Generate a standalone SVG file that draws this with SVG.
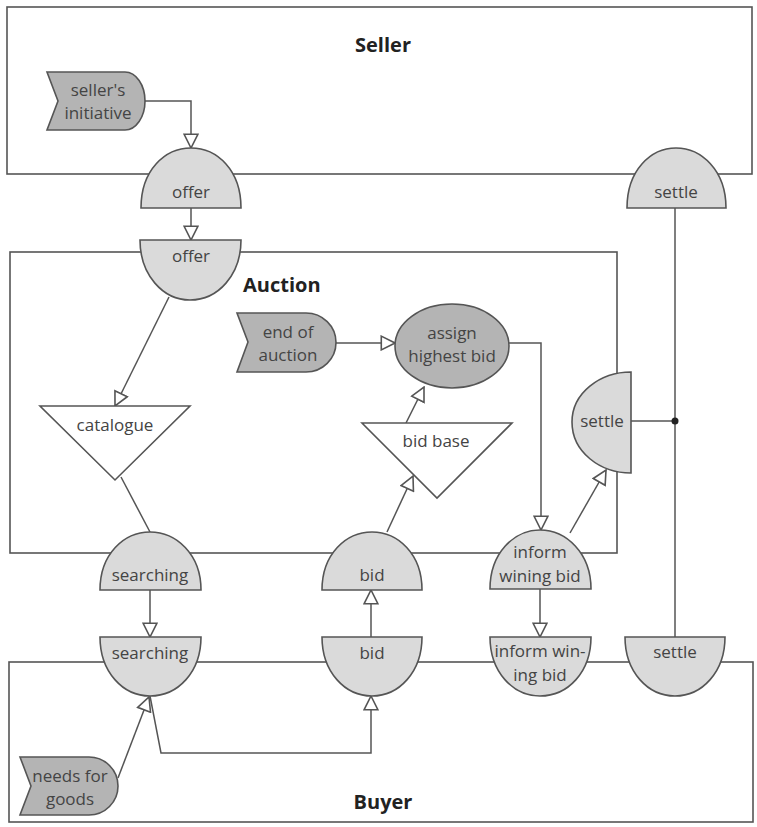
<svg xmlns="http://www.w3.org/2000/svg" width="757" height="827" viewBox="0 0 757 827">
<style>
.box{fill:none;stroke:#555;stroke-width:1.6}
.light{fill:#dadada;stroke:#555;stroke-width:1.6}
.dark{fill:#b4b4b4;stroke:#555;stroke-width:1.6}
.tri{fill:#fff;stroke:#555;stroke-width:1.6}
.c{fill:none;stroke:#555;stroke-width:1.5}
.a{marker-end:url(#ah)}
text{font-family:"Open Sans","Liberation Sans",sans-serif;font-size:17px;fill:#444;text-anchor:middle}
.title{font-size:20px;font-weight:bold;fill:#222}
</style>
<defs>
<marker id="ah" markerUnits="userSpaceOnUse" markerWidth="16" markerHeight="16" viewBox="0 0 14 14" refX="13" refY="7" orient="auto">
<path d="M1,1 L13,7 L1,13 Z" fill="#fff" stroke="#555" stroke-width="1.4"/>
</marker>
</defs>
<rect width="757" height="827" fill="#fff"/>
<g id="lanes">
<rect id="seller-lane" class="box" x="7" y="7" width="745" height="167"/>
<rect id="auction-lane" class="box" x="10" y="252" width="607" height="301"/>
<rect id="buyer-lane" class="box" x="9" y="662" width="744" height="160"/>
<text class="title" x="383" y="52">Seller</text>
<text class="title" x="243" y="292" style="text-anchor:start">Auction</text>
<text class="title" x="383" y="809">Buyer</text>
</g>
<g id="connectors">
<polyline class="c a" points="145,101 191,101 191,148"/>
<line class="c a" x1="191" y1="208" x2="191" y2="240"/>
<line class="c a" x1="169" y1="297" x2="115" y2="406"/>
<line class="c" x1="121" y1="477" x2="150" y2="532"/>
<line class="c a" x1="150" y1="590" x2="150" y2="637"/>
<line class="c a" x1="336" y1="343" x2="395" y2="343"/>
<line class="c a" x1="406" y1="423" x2="424" y2="387"/>
<line class="c a" x1="387" y1="532" x2="413" y2="476"/>
<polyline class="c a" points="508,343 541,343 541,530"/>
<line class="c a" x1="570" y1="533" x2="606" y2="470"/>
<line class="c a" x1="540" y1="589" x2="540" y2="637"/>
<line class="c a" x1="371" y1="637" x2="371" y2="590"/>
<polyline class="c a" points="150,696 161,753 371,753 371,696"/>
<line class="c a" x1="118" y1="778" x2="149" y2="697"/>
<line class="c" x1="631" y1="421" x2="675" y2="421"/>
<line class="c" x1="675" y1="208" x2="675" y2="637"/>
<circle cx="675" cy="421" r="3.5" fill="#222"/>
</g>
<g id="sellers-initiative">
<path class="dark" d="M47,72 L125,72 A20,29 0 0 1 125,130 L47,130 L58,101 Z"/>
<text x="98" y="96">seller's</text>
<text x="98" y="119">initiative</text>
</g>
<g id="offer-seller">
<path class="light" d="M141,208 C141,170 165,148 191,148 C217,148 241,170 241,208 Z"/>
<text x="191" y="198">offer</text>
</g>
<g id="settle-seller">
<path class="light" d="M627,208 C627,170 651,148 676,148 C701,148 726,170 726,208 Z"/>
<text x="676" y="198">settle</text>
</g>
<g id="offer-auction">
<path class="light" d="M140,240 L241,240 C241,275 218,300 190,300 C163,300 140,275 140,240 Z"/>
<text x="191" y="262">offer</text>
</g>
<g id="catalogue">
<path class="tri" d="M40,406 L190,406 L115,480 Z"/>
<text x="115" y="431">catalogue</text>
</g>
<g id="end-of-auction">
<path class="dark" d="M237,313 L306,313 A30,29.5 0 0 1 306,372 L237,372 L248,342 Z"/>
<text x="288" y="338">end of</text>
<text x="288" y="361">auction</text>
</g>
<g id="assign-highest-bid">
<ellipse class="dark" cx="452" cy="346" rx="57" ry="42"/>
<text x="452" y="339">assign</text>
<text x="452" y="362">highest bid</text>
</g>
<g id="bid-base">
<path class="tri" d="M362,423 L512,423 L437,498 Z"/>
<text x="436" y="447">bid base</text>
</g>
<g id="settle-auction">
<path class="light" d="M631,372 L631,473 C600,473 572,452 572,422 C572,393 600,372 631,372 Z"/>
<text x="602" y="427">settle</text>
</g>
<g id="searching-auction">
<path class="light" d="M100,590 C100,554 124,532 150,532 C176,532 201,554 201,590 Z"/>
<text x="150" y="581">searching</text>
</g>
<g id="bid-auction">
<path class="light" d="M322,590 C322,554 346,532 372,532 C398,532 422,554 422,590 Z"/>
<text x="372" y="581">bid</text>
</g>
<g id="inform-auction">
<path class="light" d="M490,589 C490,553 514,530 540,530 C566,530 591,553 591,589 Z"/>
<text x="540" y="558">inform</text>
<text x="540" y="582">wining bid</text>
</g>
<g id="searching-buyer">
<path class="light" d="M100,637 L201,637 C201,672 178,696 150,696 C123,696 100,672 100,637 Z"/>
<text x="150" y="659">searching</text>
</g>
<g id="bid-buyer">
<path class="light" d="M322,637 L422,637 C422,672 399,696 372,696 C345,696 322,672 322,637 Z"/>
<text x="372" y="659">bid</text>
</g>
<g id="inform-buyer">
<path class="light" d="M490,637 L591,637 C591,672 568,696 540,696 C513,696 490,672 490,637 Z"/>
<text x="540" y="657">inform win-</text>
<text x="540" y="681">ing bid</text>
</g>
<g id="settle-buyer">
<path class="light" d="M625,637 L725,637 C725,672 702,696 675,696 C648,696 625,672 625,637 Z"/>
<text x="675" y="658">settle</text>
</g>
<g id="needs-for-goods">
<path class="dark" d="M20,757 L89,757 A29,29 0 0 1 89,815 L20,815 L31,786 Z"/>
<text x="70" y="782">needs for</text>
<text x="70" y="805">goods</text>
</g>
</svg>
